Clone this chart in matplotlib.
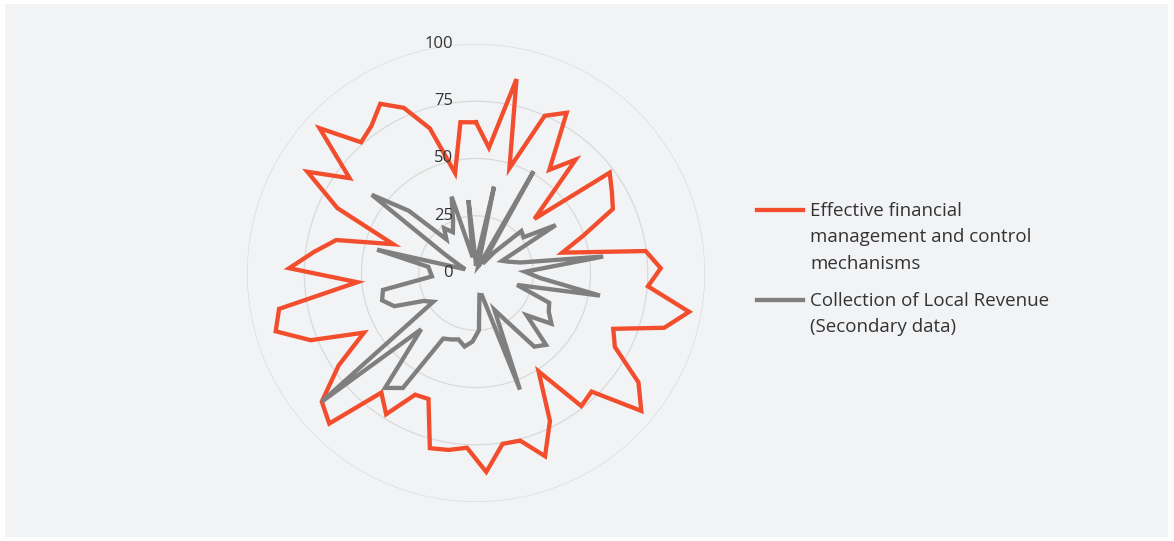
import numpy as np
import matplotlib
matplotlib.use("Agg")
import matplotlib.pyplot as plt
from matplotlib.lines import Line2D
from matplotlib.patches import Rectangle
import matplotlib.transforms as mtrans

plt.rcParams['font.family'] = ['Open Sans', 'DejaVu Sans']

categories = list(range(1, 62))

series_names = ["Effective financial\nmanagement and control\nmechanisms",
                "Collection of Local Revenue\n(Secondary data)"]

financial = [65.8, 55, 86.5, 48, 74.9, 80.4, 55.3, 65.9, 34.8, 73,
             69.2, 66, 49.6, 38.7, 74.7, 80.7, 75.3, 94.6, 85.6, 64.7,
             68.7, 85.5, 94, 72.3, 74.1, 50.9, 72.2, 85.5, 75.7, 75.5,
             87, 76.4, 78.2, 79.1, 58.8, 59.4, 73.1, 66.6, 91.8, 87.7,
             72.3, 55.4, 77.9, 91.1, 87.4, 52, 81.6, 71.4, 62.7, 38.3,
             66.8, 85.9, 69, 93.1, 76, 78.8, 84.9, 78.7, 66.3, 44.6,
             66.2]

revenue = [4, 8, 38.5, 3, 4, 51, 5, 12, 27, 26,
           40.6, 12.6, 15, 20, 56, 21.4, 28, 55, 18.7, 34.5,
           36, 39.7, 28.8, 43.8, 41, 25, 18, 54.4, 10, 9.7,
           25, 30, 32.5, 30, 31, 32, 59.5, 64, 34.3, 87.7,
           22.5, 26, 38.5, 42.7, 41.3, 19.3, 20, 21, 44.4, 5,
           8, 16, 56.9, 40, 19.6, 24, 20.5, 25, 35, 7,
           32]

r_ticks = [0, 25, 50, 75, 100]

colors = ['#F24E2E', '#7F7F7F']

W, H = 1174, 541
fig = plt.figure(figsize=(W / 100, H / 100), dpi=100, facecolor='white')
fig.add_artist(Rectangle((5 / W, 4 / H), 1 - 11 / W, 1 - 8 / H, transform=fig.transFigure,
                         facecolor='#F2F3F5', edgecolor='none', zorder=0))

cx, cy, R = 476, 273, 229
ax = fig.add_axes([(cx - R) / W, (H - cy - R) / H, 2 * R / W, 2 * R / H], projection='polar')
ax.set_facecolor('none')
ax.set_theta_zero_location('N')
ax.set_theta_direction(-1)

n = len(categories)
theta = np.linspace(0, 2 * np.pi, n, endpoint=False)
theta_c = np.append(theta, theta[0])

for vals, col in zip([financial, revenue], colors):
    v = np.append(vals, vals[0])
    ax.plot(theta_c, v, color=col, linewidth=3.1, solid_joinstyle='miter', zorder=3)

ax.set_ylim(0, 100)
ax.set_yticks(r_ticks[1:])
ax.set_yticklabels([])
ax.set_xticks([])
ax.yaxis.grid(True, color='#D9D9D9', linewidth=0.9)
ax.xaxis.grid(False)
ax.spines['polar'].set_visible(False)

off = mtrans.offset_copy(ax.transData, fig=fig, x=-23, y=0, units='dots')
for t in r_ticks:
    ax.text(0, t, str(t), transform=off, ha='right', va='center', fontsize=12,
            color='#333333', zorder=4)

# legend
lx0, lx1, tx = 757, 803, 810
entries = [(210, series_names[0]), (300, series_names[1])]
for (y, name), col in zip(entries, colors):
    fig.add_artist(Line2D([lx0 / W, lx1 / W], [1 - y / H, 1 - y / H], transform=fig.transFigure,
                          color=col, linewidth=3.1))
    fig.text(tx / W, 1 - (y - 8) / H, name, ha='left', va='top', fontsize=13.5,
             color='#333333', linespacing=1.6)

fig.savefig('out.png', dpi=100, facecolor='white')
